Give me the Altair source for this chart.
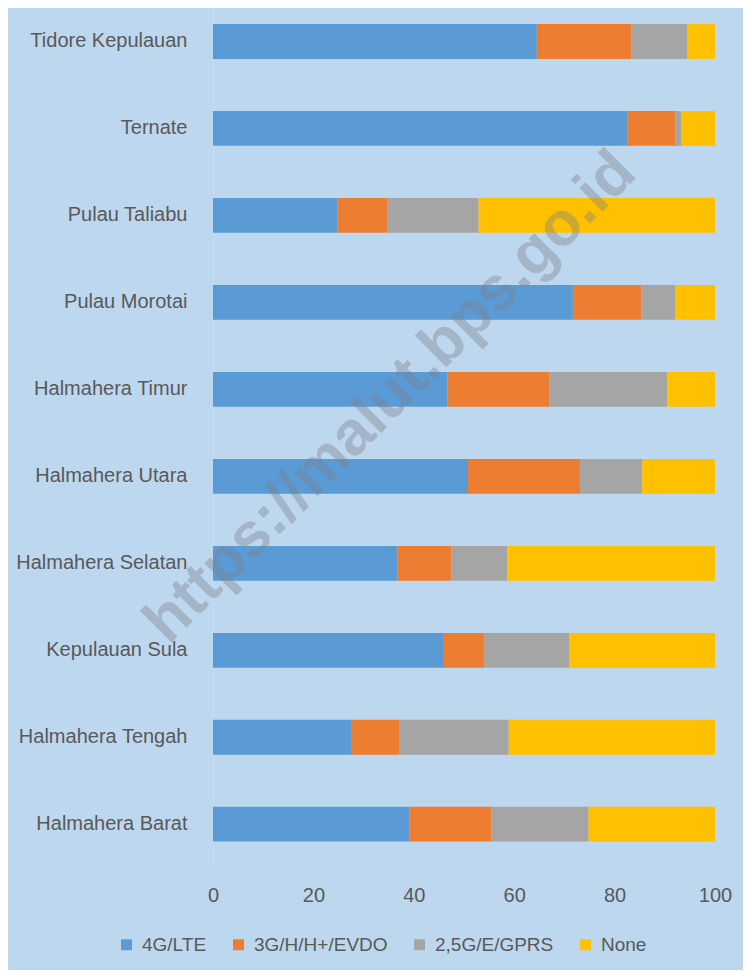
import altair as alt
import pandas as pd

categories = ["Tidore Kepulauan", "Ternate", "Pulau Taliabu", "Pulau Morotai",
              "Halmahera Timur", "Halmahera Utara", "Halmahera Selatan",
              "Kepulauan Sula", "Halmahera Tengah", "Halmahera Barat"]
series_names = ["4G/LTE", "3G/H/H+/EVDO", "2,5G/E/GPRS", "None"]
lte = [64.5, 82.6, 24.8, 71.7, 46.7, 50.8, 36.7, 46.0, 27.5, 39.1]
g3 = [18.8, 9.5, 10.0, 13.6, 20.3, 22.3, 10.8, 8.1, 9.7, 16.4]
g25 = [11.2, 1.2, 18.1, 6.8, 23.5, 12.4, 11.1, 16.9, 21.7, 19.3]
none = [5.5, 6.7, 47.1, 7.9, 9.5, 14.5, 41.4, 29.0, 41.1, 25.2]
colors = ["#5B9BD5", "#ED7D31", "#A5A5A5", "#FFC000"]
x_ticks = [0, 20, 40, 60, 80, 100]
watermark = "https://malut.bps.go.id"

rows = []
for si, (name, vals) in enumerate(zip(series_names, [lte, g3, g25, none])):
    for c, v in zip(categories, vals):
        rows.append({"kab": c, "series": name, "order": si, "value": v})
df = pd.DataFrame(rows)

FONT = "Liberation Sans"
TXT = "#595959"

bars = alt.Chart(df).mark_bar().encode(
    y=alt.Y("kab:N", sort=categories, title=None,
            scale=alt.Scale(paddingInner=0.6, paddingOuter=0.25, align=0.37),
            axis=alt.Axis(domain=True, domainColor="#D9D9D9", ticks=False,
                          labelPadding=26, labelFontSize=20, labelColor=TXT,
                          labelFont=FONT)),
    x=alt.X("value:Q", stack="zero", title=None,
            scale=alt.Scale(domain=[0, 100], nice=False),
            axis=alt.Axis(values=x_ticks, domain=False, ticks=False, grid=False,
                          labelFlush=False,
                          labelPadding=16, labelFontSize=20, labelColor=TXT,
                          labelFont=FONT)),
    color=alt.Color("series:N", sort=series_names,
                    scale=alt.Scale(domain=series_names, range=colors),
                    legend=alt.Legend(title=None, orient="none", direction="horizontal",
                                      legendX=-96, legendY=927,
                                      symbolType="square", symbolSize=120,
                                      symbolStrokeWidth=0, labelFontSize=19,
                                      labelColor=TXT, labelFont=FONT,
                                      labelOffset=6, columnPadding=22)),
    order=alt.Order("order:Q"),
)

wm = alt.Chart(pd.DataFrame({"t": [watermark]})).mark_text(
    angle=315, fontSize=62, fontWeight="bold", font=FONT,
    color="#7a7f88", opacity=0.38, align="center", baseline="middle"
).encode(text="t:N", x=alt.value(177), y=alt.value(389))

chart = alt.layer(bars, wm).properties(
    width=502, height=861,
    autosize=alt.AutoSizeParams(type="none"),
    padding={"left": 205, "top": 0, "right": 28, "bottom": 101},
    background="#BDD7EE",
).configure_view(stroke=None)

chart.save("out.html", embed_options={"renderer": "svg", "actions": False})
